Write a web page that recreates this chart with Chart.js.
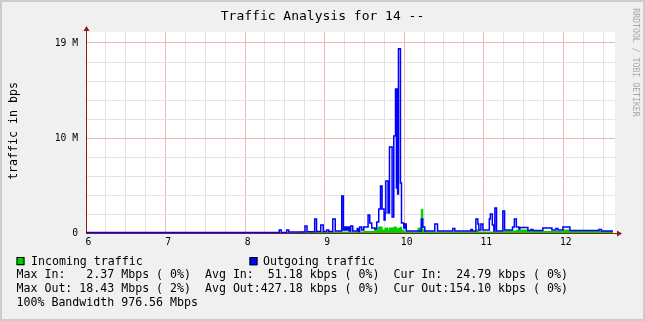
<!DOCTYPE html>
<html>
<head>
<meta charset="utf-8">
<title>Traffic Analysis for 14 --</title>
<script src="https://cdn.jsdelivr.net/npm/chart.js"></script>
<style>
  html, body { margin: 0; padding: 0; background: #f0f0f0; }
  #wrap { width: 645px; height: 321px; }
</style>
</head>
<body>
<div id="wrap"><canvas id="trafficChart" width="645" height="321"></canvas></div>
<script>
// time of day in hours, values in Mbps (step samples)
const times = [
  6.000, 8.429, 8.454, 8.523, 8.548, 8.687, 8.753, 8.778, 8.875, 8.898,
  8.951, 8.982, 9.026, 9.052, 9.102, 9.133, 9.215, 9.235, 9.253, 9.272,
  9.291, 9.309, 9.328, 9.353, 9.410, 9.428, 9.441, 9.467, 9.492, 9.546,
  9.567, 9.592, 9.630, 9.655, 9.674, 9.680, 9.702, 9.722, 9.747, 9.760,
  9.769, 9.797, 9.815, 9.848, 9.869, 9.891, 9.902, 9.907, 9.918, 9.928,
  9.953, 9.966, 9.995, 10.008, 10.026, 10.175, 10.215, 10.234, 10.259, 10.385,
  10.419, 10.611, 10.636, 10.838, 10.857, 10.901, 10.926, 10.938, 10.964, 10.989,
  11.070, 11.083, 11.108, 11.127, 11.140, 11.161, 11.240, 11.262, 11.362, 11.385,
  11.410, 11.442, 11.454, 11.555, 11.592, 11.618, 11.743, 11.857, 11.907, 11.932,
  11.995, 12.083, 12.448, 12.479, 12.624
];
const outgoingMbps = [
  0.05, 0.30, 0.05, 0.30, 0.10, 0.10, 0.70, 0.12, 1.40, 0.15,
  0.80, 0.15, 0.30, 0.15, 1.40, 0.20, 3.70, 0.30, 0.60, 0.30,
  0.60, 0.20, 0.70, 0.20, 0.45, 0.15, 0.60, 0.30, 0.60, 1.80,
  1.00, 0.50, 0.40, 1.10, 1.10, 2.40, 4.70, 2.40, 1.30, 2.00,
  5.20, 2.00, 8.60, 1.60, 9.70, 14.40, 4.50, 14.40, 3.90, 18.43,
  5.00, 1.00, 0.50, 0.90, 0.20, 0.20, 1.40, 0.60, 0.20, 0.90,
  0.20, 0.45, 0.20, 0.35, 0.20, 1.40, 0.90, 0.30, 0.90, 0.30,
  1.40, 1.90, 0.80, 0.20, 2.50, 0.20, 2.20, 0.30, 0.60, 1.40,
  0.60, 0.40, 0.55, 0.25, 0.35, 0.25, 0.50, 0.30, 0.45, 0.30,
  0.60, 0.25, 0.35, 0.20, 0.20
];
const incomingMbps = [
  0.02, 0.02, 0.02, 0.02, 0.02, 0.10, 0.10, 0.10, 0.10, 0.10,
  0.10, 0.10, 0.10, 0.10, 0.10, 0.10, 0.10, 0.10, 0.10, 0.10,
  0.10, 0.10, 0.10, 0.10, 0.10, 0.10, 0.10, 0.10, 0.15, 0.15,
  0.15, 0.15, 0.50, 0.20, 0.60, 0.60, 0.60, 0.30, 0.30, 0.50,
  0.50, 0.20, 0.50, 0.50, 0.60, 0.60, 0.60, 0.40, 0.40, 0.50,
  0.60, 0.30, 0.10, 0.10, 0.10, 0.50, 2.37, 0.30, 0.10, 0.10,
  0.10, 0.10, 0.10, 0.10, 0.10, 0.30, 0.30, 0.10, 0.10, 0.10,
  0.10, 0.10, 0.10, 0.10, 0.10, 0.10, 0.10, 0.20, 0.20, 0.20,
  0.30, 0.30, 0.30, 0.15, 0.30, 0.15, 0.15, 0.15, 0.15, 0.15,
  0.30, 0.15, 0.15, 0.15, 0.15
];

const hourLabels = [6, 7, 8, 9, 10, 11, 12];
const yMajorValues = [0, 9.5, 19];      // in M
const yMajorLabels = ['0', '10 M', '19 M'];
const yMinorStep = 1.9;                // in M

const legendItems = ['Incoming traffic', 'Outgoing traffic'];
const statLines = [
  'Max In:   2.37 Mbps ( 0%)  Avg In:  51.18 kbps ( 0%)  Cur In:  24.79 kbps ( 0%)',
  'Max Out: 18.43 Mbps ( 2%)  Avg Out:427.18 kbps ( 0%)  Cur Out:154.10 kbps ( 0%)',
  '100% Bandwidth 976.56 Mbps'
];

const MONO = '"DejaVu Sans Mono", "Liberation Mono", monospace';
const AXIS_RED = '#8b1a1a';

document.addEventListener('DOMContentLoaded', () => {
  const ctx = document.getElementById('trafficChart').getContext('2d');

  const toPoints = (arr) => times.map((t, i) => ({ x: t, y: arr[i] * 1e6 }));

  const isHour = (v) => Math.abs(v - Math.round(v)) < 1e-6;
  const majorIndex = (v) => yMajorValues.findIndex(m => Math.abs(m * 1e6 - v) < 1);

  const frame = {
    id: 'frame',
    beforeDraw(chart) {
      const c = chart.ctx;
      const a = chart.chartArea;
      c.save();
      c.fillStyle = '#f0f0f0';
      c.fillRect(0, 0, chart.width, chart.height);
      c.strokeStyle = '#cccccc';
      c.lineWidth = 2;
      c.strokeRect(1, 1, chart.width - 2, chart.height - 2);
      c.fillStyle = '#ffffff';
      c.fillRect(a.left, a.top, a.right - a.left, a.bottom - a.top);
      c.restore();
    },
    afterDraw(chart) {
      const c = chart.ctx;
      const a = chart.chartArea;
      c.save();

      // axis arrows
      c.fillStyle = AXIS_RED;
      c.strokeStyle = AXIS_RED;
      c.lineWidth = 1;
      c.beginPath();
      c.moveTo(a.right, a.bottom + 0.5);
      c.lineTo(a.right + 3, a.bottom + 0.5);
      c.stroke();
      c.beginPath();
      c.moveTo(a.right + 2, a.bottom - 2.5);
      c.lineTo(a.right + 7, a.bottom + 0.5);
      c.lineTo(a.right + 2, a.bottom + 3.5);
      c.fill();
      c.beginPath();
      c.moveTo(a.left + 0.5, a.top);
      c.lineTo(a.left + 0.5, a.top - 3);
      c.stroke();
      c.beginPath();
      c.moveTo(a.left - 2.5, a.top - 1);
      c.lineTo(a.left + 0.5, a.top - 6);
      c.lineTo(a.left + 3.5, a.top - 1);
      c.fill();

      // title
      c.fillStyle = '#000000';
      c.font = '13px ' + MONO;
      c.textAlign = 'center';
      c.textBaseline = 'middle';
      c.fillText('Traffic Analysis for 14 --', chart.width / 2, 17);

      // vertical axis title
      c.save();
      c.font = '11.6px ' + MONO;
      c.translate(14, 131);
      c.rotate(-Math.PI / 2);
      c.fillText('traffic in bps', 0, 0);
      c.restore();

      // watermark
      c.save();
      c.fillStyle = '#a8a8a8';
      c.font = '8.2px ' + MONO;
      c.translate(635, 62.5);
      c.rotate(Math.PI / 2);
      c.fillText('RRDTOOL / TOBI OETIKER', 0, 0);
      c.restore();

      // legend
      c.font = '11.6px ' + MONO;
      c.textAlign = 'left';
      const boxes = [[16.5, '#00cc00', 31], [249.5, '#0000ff', 263]];
      boxes.forEach(([bx, col, tx], i) => {
        c.fillStyle = col;
        c.fillRect(bx, 257.5, 8, 8);
        c.strokeStyle = '#000000';
        c.strokeRect(bx + 0.5, 257.5, 7, 7);
        c.fillStyle = '#000000';
        c.fillText(legendItems[i], tx, 261.5);
      });

      const rowY = [275, 289.3, 303.3];
      statLines.forEach((line, i) => c.fillText(line, 16.5, rowY[i]));

      c.restore();
    }
  };

  const trafficChart = new Chart(ctx, {
    type: 'line',
    data: {
      datasets: [{
        label: legendItems[1],
        data: toPoints(outgoingMbps),
        borderColor: '#0000ff',
        borderWidth: 1.5,
        stepped: true,
        fill: false,
        pointRadius: 0,
        order: 0
      }, {
        label: legendItems[0],
        data: toPoints(incomingMbps),
        borderColor: '#00cc00',
        backgroundColor: '#00cc00',
        borderWidth: 1,
        stepped: true,
        fill: 'origin',
        pointRadius: 0,
        order: 1
      }]
    },
    options: {
      responsive: false,
      animation: false,
      events: [],
      layout: { padding: { left: 0, top: 32, right: 30, bottom: 68 } },
      plugins: {
        legend: { display: false },
        tooltip: { enabled: false }
      },
      scales: {
        x: {
          type: 'linear',
          min: 6,
          max: 12.65,
          afterBuildTicks: (scale) => {
            const ticks = [];
            for (let v = 6; v <= 12.5; v += 0.25) ticks.push({ value: v });
            scale.ticks = ticks;
          },
          afterFit: (scale) => { scale.height = 20; },
          ticks: {
            autoSkip: false,
            maxRotation: 0,
            labelOffset: 2.5,
            padding: 4,
            color: '#000000',
            font: { family: MONO, size: 9.7 },
            callback: (v) => (isHour(v) && hourLabels.includes(Math.round(v)) ? String(Math.round(v)) : '')
          },
          grid: {
            drawTicks: false,
            color: (c) => (isHour(c.tick.value) ? '#f2b4b4' : '#e3e3e3')
          },
          border: { color: AXIS_RED, width: 1 }
        },
        y: {
          type: 'linear',
          min: 0,
          max: 20.1e6,
          afterBuildTicks: (scale) => {
            const ticks = [];
            for (let i = 0; i <= 10; i++) ticks.push({ value: i * yMinorStep * 1e6 });
            scale.ticks = ticks;
          },
          afterFit: (scale) => { scale.width = 86; },
          ticks: {
            padding: 8,
            color: '#000000',
            font: { family: MONO, size: 9.7 },
            callback: (v) => {
              const idx = majorIndex(v);
              return idx >= 0 ? yMajorLabels[idx] : '';
            }
          },
          grid: {
            drawTicks: false,
            color: (c) => (majorIndex(c.tick.value) > 0 ? '#f2b4b4' : '#e3e3e3')
          },
          border: { color: AXIS_RED, width: 1 }
        }
      }
    },
    plugins: [frame]
  });
});
</script>
</body>
</html>
